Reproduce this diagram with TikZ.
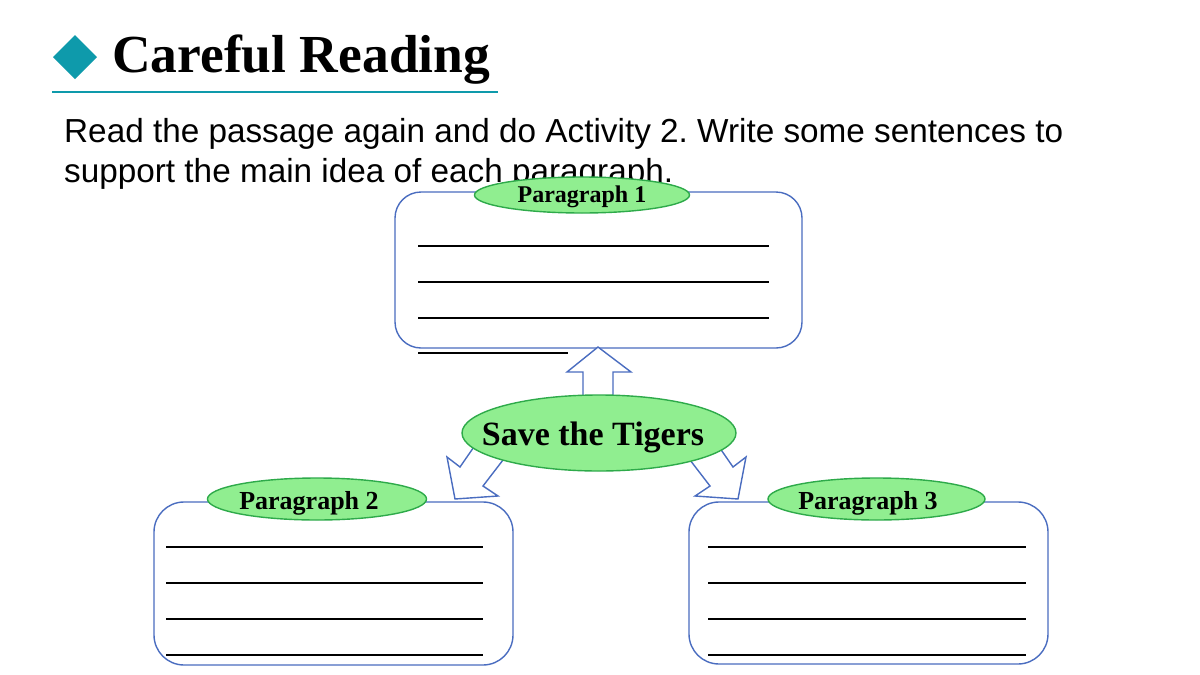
\documentclass[tikz,border=0pt]{standalone}
\usepackage{fontspec}
\setmainfont{Liberation Serif}
\newfontfamily\arialfont{Liberation Sans}
\usetikzlibrary{shapes.geometric}
\frenchspacing
\definecolor{teal1}{HTML}{0E9AAB}
\definecolor{boxblue}{HTML}{4A6DC0}
\definecolor{lgreen}{HTML}{90EE90}
\definecolor{dgreen}{HTML}{2EAA4A}
\tikzset{
  boxnode/.style={draw=boxblue, line width=1.4pt, rounded corners=26pt, inner sep=0pt},
  blank/.style={line width=2pt, black},
  pell/.style={ellipse, draw=dgreen, fill=lgreen, line width=1.4pt, inner sep=0pt},
  plabel/.style={anchor=base, inner sep=0pt, font=\bfseries\fontsize{26}{28}\selectfont},
  blockarrow/.style={draw=boxblue, fill=white, line width=1.4pt, line join=miter},
}
\begin{document}
\begin{tikzpicture}[x=1pt,y=-1pt]
\useasboundingbox (0,0) rectangle (1200,675);
\fill[white] (0,0) rectangle (1200,675);
% title
\fill[teal1] (75,35) -- (97,57) -- (75,79) -- (53,57) -- cycle;
\node[anchor=base west, inner sep=0pt, font=\bfseries\fontsize{53.5}{60}\selectfont] (title) at (112,72) {Careful Reading};
\draw[teal1, line width=1.4pt] (52,92) -- (498,92);
% instructions
\node[anchor=base west, inner sep=0pt, font=\arialfont\fontsize{33.3}{40}\selectfont] (instr1) at (64,142) {Read the passage again and do Activity 2. Write some sentences to};
\node[anchor=base west, inner sep=0pt, font=\arialfont\fontsize{33.3}{40}\selectfont] (instr2) at (64,182) {support the main idea of each paragraph.};
% boxes
\node[boxnode, minimum width=407pt, minimum height=156pt] (b1) at (598.5,270) {};
\node[boxnode, minimum width=359pt, minimum height=163pt, rounded corners=30pt] (b2) at (333.5,583.5) {};
\node[boxnode, minimum width=359pt, minimum height=162pt, rounded corners=30pt] (b3) at (868.5,583) {};
% blanks
\foreach \y in {246,282,318} \draw[blank] (418,\y) -- (769,\y);
\draw[blank] (418,353) -- (568,353);
\foreach \y in {547,583,619,655} {
  \draw[blank] (166,\y) -- (483,\y);
  \draw[blank] (708,\y) -- (1026,\y);
}
% block arrows
\draw[blockarrow] (583,405) -- (583,372) -- (567,372) -- (598,347) -- (631,372) -- (613,372) -- (613,405) -- cycle;
\draw[blockarrow] (478,441) -- (460,467) -- (447,457) -- (455,499) -- (498,496) -- (483,486) -- (503,460) -- cycle;
\draw[blockarrow] (715,441) -- (733,467) -- (746,457) -- (738,499) -- (695,496) -- (710,486) -- (690,460) -- cycle;
% ellipses
\node[pell, minimum width=274pt, minimum height=76pt] (save) at (599,433) {};
\node[anchor=base, inner sep=0pt, font=\bfseries\fontsize{34}{36}\selectfont] (savet) at (593,445) {Save the Tigers};
\node[pell, minimum width=215pt, minimum height=36pt] (p1) at (582,195) {};
\node[plabel, font=\bfseries\fontsize{24}{26}\selectfont] (p1t) at (582,202) {Paragraph 1};
\node[pell, minimum width=219pt, minimum height=42pt] (p2) at (317,499) {};
\node[plabel] (p2t) at (309,509) {Paragraph 2};
\node[pell, minimum width=217pt, minimum height=42pt] (p3) at (876.5,499) {};
\node[plabel] (p3t) at (868,509) {Paragraph 3};
\end{tikzpicture}
\end{document}
